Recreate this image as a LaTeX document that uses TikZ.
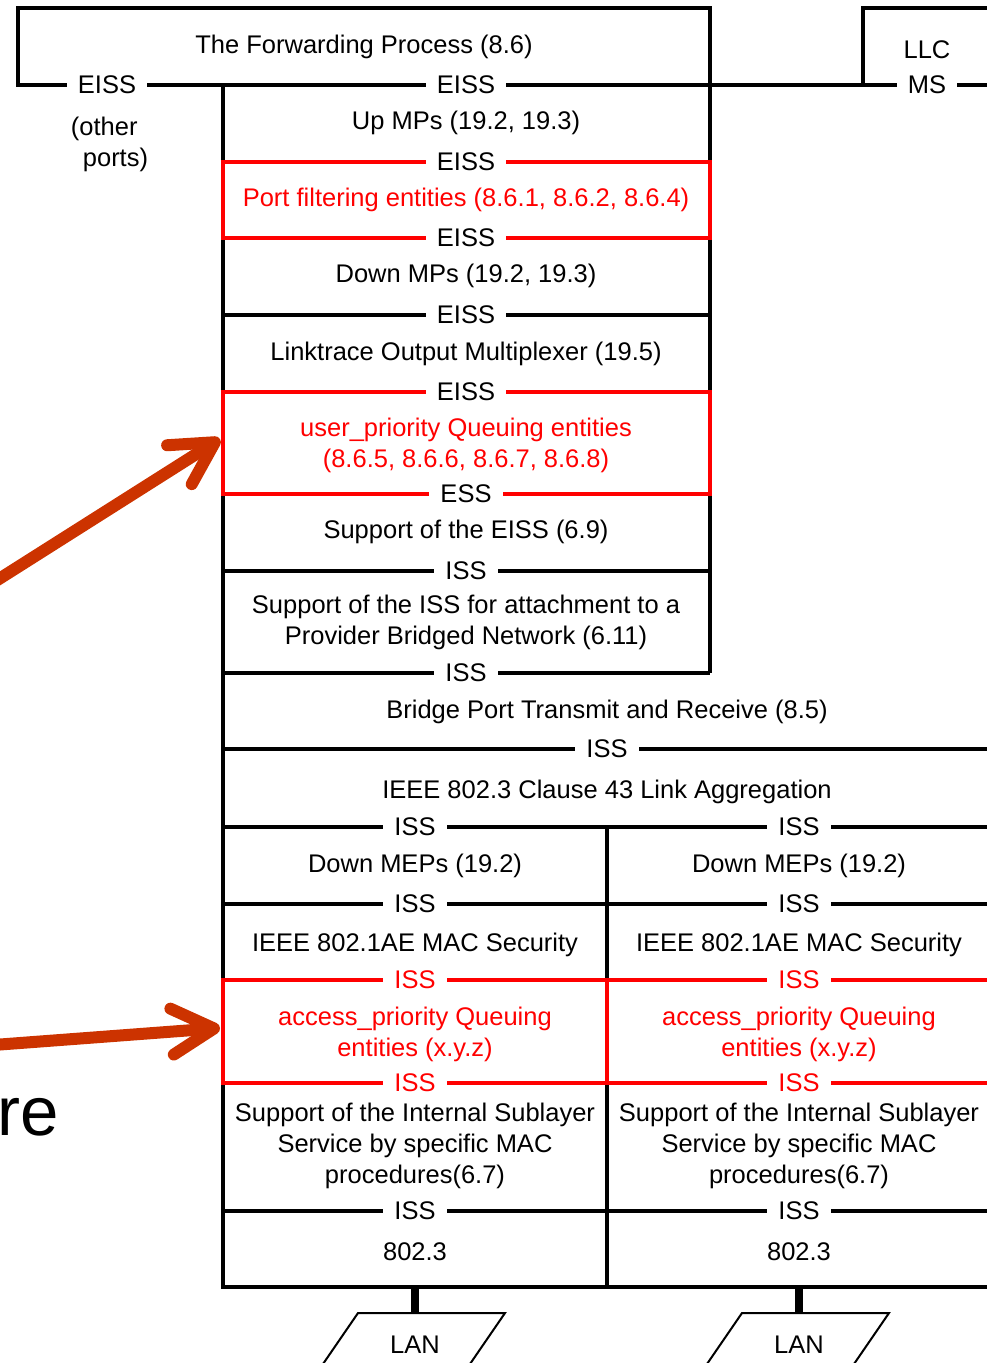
\documentclass[tikz,border=0pt]{standalone}
\usepackage{fontspec}
\setmainfont{Liberation Sans}
\usetikzlibrary{arrows.meta}

\definecolor{hilite}{HTML}{FF0000}
\definecolor{pointer}{HTML}{CC3300}

\begin{document}
\begin{tikzpicture}[x=1pt, y=-1pt, line width=3.8pt,
    base/.style={align=center, font=\fontsize{25.5}{31}\selectfont, inner sep=0pt},
    txt/.style={base, yshift=-2pt},
    svc/.style={base, fill=white, inner xsep=11pt, inner ysep=2pt},
    redtxt/.style={txt, text=hilite},
    redsvc/.style={svc, text=hilite},
    redline/.style={draw=hilite, line width=3.8pt},
    pointer/.style={draw=pointer, line width=12pt, line cap=round,
        -{Straight Barb[length=42pt, width=46pt, round]}}]
    \clip (0,0) rectangle (987,1363);

    % forwarding process, LLC and the port stack outline
    \draw (1000,85) -- (18,85) -- (18,8) -- (710,8) -- (710,673);
    \draw (863,85) -- (863,8) -- (1000,8);
    \draw (223,85) -- (223,1287) -- (1000,1287);
    \draw (607,827) -- (607,1287);
    \foreach \y in {315,571,673}
        \draw (223,\y) -- (710,\y);
    \foreach \y in {749,827,904,1211}
        \draw (223,\y) -- (1000,\y);

    % queuing layers in red
    \draw[redline] (223,162) rectangle (710,238);
    \draw[redline] (223,392) rectangle (710,494);
    \draw[redline] (1000,980) -- (223,980) -- (223,1083) -- (1000,1083);
    \draw[redline] (607,980) -- (607,1083);

    % service access points on the lines
    \node[svc] (eissL) at (107,85) {EISS};
    \node[svc] (ms) at (927,85) {MS};
    \foreach \y/\t [count=\i] in {85/EISS,162/EISS,238/EISS,315/EISS,392/EISS,494/ESS,571/ISS,673/ISS}
        \node[svc] (sap\i) at (466,\y) {\t};
    \node[svc] (issAgg) at (607,749) {ISS};
    \foreach \c/\n in {415/a,799/b} {
        \node[svc] (iss1\n) at (\c,827) {ISS};
        \node[svc] (iss2\n) at (\c,904) {ISS};
        \node[redsvc] (iss3\n) at (\c,980) {ISS};
        \node[redsvc] (iss4\n) at (\c,1083) {ISS};
        \node[svc] (iss5\n) at (\c,1211) {ISS};
    }

    % layer names
    \node[txt] (fwd) at (364,45) {The Forwarding Process (8.6)};
    \node[txt] (llc) at (927,48) {LLC};
    \node[txt, align=left, anchor=west] (other) at (69,142) {(other\\\hspace*{12pt}ports)};
    \node[txt] (upmp) at (466,121) {Up MPs (19.2, 19.3)};
    \node[redtxt] (pfilt) at (466,198) {Port filtering entities (8.6.1, 8.6.2, 8.6.4)};
    \node[txt] (dnmp) at (466,274) {Down MPs (19.2, 19.3)};
    \node[txt] (ltmux) at (466,352) {Linktrace Output Multiplexer (19.5)};
    \node[redtxt] (upq) at (466,443) {user\_priority Queuing entities\\(8.6.5, 8.6.6, 8.6.7, 8.6.8)};
    \node[txt] (eiss) at (466,530) {Support of the EISS (6.9)};
    \node[txt] (pbn) at (466,620) {Support of the ISS for attachment to a\\Provider Bridged Network (6.11)};
    \node[txt] (bptr) at (607,710) {Bridge Port Transmit and Receive (8.5)};
    \node[txt] (lag) at (607,790) {IEEE 802.3 Clause 43 Link Aggregation};
    \foreach \c/\n in {415/a,799/b} {
        \node[txt] (mep\n) at (\c,864) {Down MEPs (19.2)};
        \node[txt] (sec\n) at (\c,943) {IEEE 802.1AE MAC Security};
        \node[redtxt] (apq\n) at (\c,1032) {access\_priority Queuing\\entities (x.y.z)};
        \node[txt] (isl\n) at (\c,1144) {Support of the Internal Sublayer\\Service by specific MAC\\procedures(6.7)};
        \node[txt] (mac\n) at (\c,1250) {802.3};
        % LAN attachment
        \node[txt] (lan\n) at (\c,1343) {LAN};
        \draw[line width=8pt] (\c,1287) -- (\c,1313);
        \draw[line width=2pt] (\c-57,1313) -- (\c+90,1313) -- (\c+44,1380) -- (\c-103,1380) -- cycle;
    }

    % pointers from the slide text
    \node[font=\fontsize{69}{69}\selectfont, anchor=base west, inner sep=0pt] (re) at (-4,1135) {re};
    \coordinate (tailA) at (-20,591);
    \coordinate (tipA) at (220,439);
    \coordinate (tailB) at (-20,1046);
    \coordinate (tipB) at (220,1028);
    \draw[pointer] (tailA) -- (tipA);
    \draw[pointer] (tailB) -- (tipB);
\end{tikzpicture}
\end{document}
